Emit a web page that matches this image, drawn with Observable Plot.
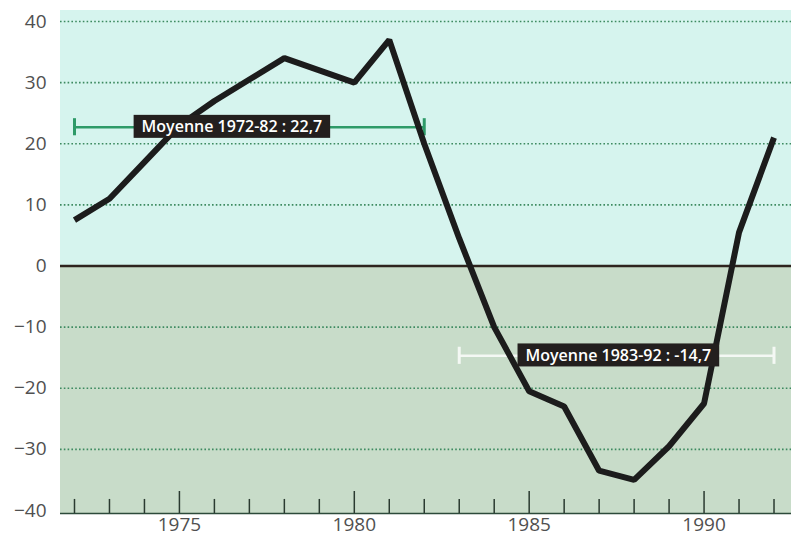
<!DOCTYPE html>
<html>
<head>
<meta charset="utf-8">
<script src="https://cdn.jsdelivr.net/npm/d3@7"></script>
<script src="https://cdn.jsdelivr.net/npm/@observablehq/plot@0.6"></script>
<style>
  html, body { margin: 0; padding: 0; background: #ffffff; }
  #chart svg { display: block; }
</style>
</head>
<body>
<div id="chart"></div>
<script>
const years = [1972,1973,1974,1975,1976,1977,1978,1979,1980,1981,1982,1983,1984,1985,1986,1987,1988,1989,1990,1991,1992];
const values = [7.5,11,17,23,27,30.5,34,32,30,37,20,4.5,-10,-20.5,-23,-33.5,-35,-29.5,-22.5,5.5,21];

const averages = [
  {from: 1972, to: 1982, value: 22.7, label: "Moyenne 1972-82 : 22,7", labelAt: 1976.5, color: "#2e9a68"},
  {from: 1983, to: 1992, value: -14.7, label: "Moyenne 1983-92 : -14,7", labelAt: 1987.55, color: "#f4f8f4"}
];

const gridValues = [-30, -20, -10, 10, 20, 30, 40];
const yTickLabels = [-40, -30, -20, -10, 0, 10, 20, 30, 40];
const xTickLabels = [1975, 1980, 1985, 1990];
const tickYears = d3.range(1972, 1993);

const yMin = -40.5, yMax = 41.8;
const data = years.map((y, i) => ({year: y, value: values[i]}));

const chart = Plot.plot({
  width: 791,
  height: 538,
  marginLeft: 60,
  marginRight: 0,
  marginTop: 10,
  marginBottom: 25,
  style: {fontFamily: "'Open Sans', sans-serif", background: "transparent"},
  x: {domain: [1971.6, 1992.5]},
  y: {domain: [yMin, yMax]},
  marks: [
    Plot.rect([{y1: 0, y2: yMax}], {x1: 1971.6, x2: 1992.5, y1: "y1", y2: "y2", fill: "#d6f4ee"}),
    Plot.rect([{y1: yMin, y2: 0}], {x1: 1971.6, x2: 1992.5, y1: "y1", y2: "y2", fill: "#c8dcc9"}),
    Plot.ruleY(gridValues, {stroke: "#3d8a60", strokeWidth: 1.6, strokeDasharray: "1.6,2.2"}),
    Plot.ruleY([0], {stroke: "#2e241e", strokeWidth: 2.5}),
    Plot.ruleY([yMin], {stroke: "#2c4a3a", strokeWidth: 1.5}),
    Plot.ruleX(tickYears, {x: d => d, y1: yMin, y2: d => yMin + (d % 5 === 0 ? 3.6 : 2.3), stroke: "#2a3a30", strokeWidth: 1.5}),
    Plot.ruleY(averages, {y: "value", x1: "from", x2: "to", stroke: "color", strokeWidth: 2.5}),
    Plot.ruleX(averages, {x: "from", y1: d => d.value - 1.4, y2: d => d.value + 1.4, stroke: "color", strokeWidth: 3}),
    Plot.ruleX(averages, {x: "to", y1: d => d.value - 1.4, y2: d => d.value + 1.4, stroke: "color", strokeWidth: 3}),
    Plot.line(data, {x: "year", y: "value", stroke: "#1c1c1c", strokeWidth: 6, strokeLinejoin: "miter", strokeLinecap: "butt"}),
    Plot.text(averages, {x: "labelAt", y: "value", text: "label", fill: "#ffffff", fontSize: 16, fontWeight: 600, className: "avg-label"}),
    Plot.axisY(yTickLabels, {tickSize: 0, tickPadding: 14, color: "#505050", label: null}),
    Plot.axisX(xTickLabels, {tickSize: 0, tickPadding: 4, color: "#505050", tickFormat: d => String(d), label: null})
  ]
});

document.getElementById("chart").appendChild(chart);

// enlarge axis tick labels
chart.querySelectorAll("text").forEach(t => {
  const g = t.closest("g");
  const inLabel = g && (g.getAttribute("class") || "").includes("avg-label");
  if (!inLabel) {
    t.style.setProperty("font-size", "19px", "important");
    t.style.setProperty("font-family", "'Open Sans', sans-serif", "important");
  }
});

// dark background boxes behind the average labels
const labelGroup = [...chart.querySelectorAll("g")].find(g => (g.getAttribute("class") || "").includes("avg-label"));
if (labelGroup) {
  labelGroup.querySelectorAll("text").forEach(t => {
    const b = t.getBBox();
    const r = document.createElementNS("http://www.w3.org/2000/svg", "rect");
    r.setAttribute("x", b.x - 8);
    r.setAttribute("y", b.y - 0.5);
    r.setAttribute("width", b.width + 16);
    r.setAttribute("height", b.height + 1);
    r.setAttribute("fill", "#231f1e");
    const tr = t.getAttribute("transform");
    if (tr) r.setAttribute("transform", tr);
    labelGroup.insertBefore(r, t);
  });
}
</script>
</body>
</html>
